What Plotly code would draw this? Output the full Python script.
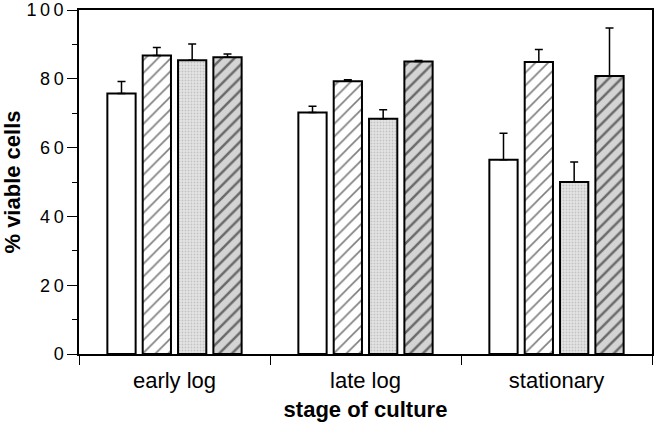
import plotly.graph_objects as go

stages = ['early log', 'late log', 'stationary']
series_names = ['A', 'B', 'C', 'D']

# mean % viable cells per stage, one list per series
viable_a = [75.7, 70.2, 56.5]
viable_b = [86.8, 79.3, 84.9]
viable_c = [85.4, 68.4, 50.0]
viable_d = [86.3, 85.0, 80.8]

# upper error (SD) per stage
err_a = [3.5, 1.8, 7.7]
err_b = [2.3, 0.4, 3.6]
err_c = [4.7, 2.6, 5.8]
err_d = [0.9, 0.3, 14.0]

y_ticks = [0, 20, 40, 60, 80, 100]
# the original typesetting has wide letter spacing on the numbers
y_ticktext = ['\u2009'.join(str(v)) for v in y_ticks]

patterns = [
    dict(shape='', bgcolor='white'),
    dict(shape='/', bgcolor='white', fgcolor='black', size=9, solidity=0.18),
    dict(shape='.', bgcolor='#e4e4e4', fgcolor='#a0a0a0', size=3, solidity=0.3),
    dict(shape='/', bgcolor='#d4d4d4', fgcolor='black', size=9, solidity=0.28),
]

fig = go.Figure()
for name, vals, errs, pat in zip(series_names,
                                 [viable_a, viable_b, viable_c, viable_d],
                                 [err_a, err_b, err_c, err_d],
                                 patterns):
    fig.add_trace(go.Bar(
        x=stages,
        y=vals,
        name=name,
        marker=dict(color='white', pattern=pat, line=dict(color='black', width=2)),
        error_y=dict(type='data', symmetric=False, array=errs, arrayminus=[0] * len(errs),
                     color='black', thickness=1.5, width=4),
    ))

font = 'Liberation Sans, Arial, Helvetica, sans-serif'
fig.update_layout(
    width=656, height=426,
    margin=dict(l=79, r=4, t=10, b=72),
    paper_bgcolor='white', plot_bgcolor='white',
    barmode='group', bargap=0.26, bargroupgap=0.2,
    showlegend=False,
    font=dict(family=font, size=18, color='black'),
)
fig.update_xaxes(
    automargin=False,
    showline=True, linecolor='black', linewidth=1.5, mirror=True,
    ticks='outside', tickson='boundaries', ticklen=9, tickcolor='black',
    tickfont=dict(size=22), ticklabelstandoff=6,
    showgrid=False,
    title=dict(text='<b>stage of culture</b>', font=dict(size=22), standoff=9),
)
fig.update_yaxes(
    automargin=False,
    range=[0, 100], showline=True, linecolor='black', linewidth=1.5, mirror=True,
    tickvals=y_ticks, ticktext=y_ticktext, ticks='outside', ticklen=10, tickcolor='black',
    ticklabeloverflow='allow',
    minor=dict(dtick=10, ticks='outside', ticklen=5, tickcolor='black', showgrid=False),
    showgrid=False, zeroline=False,
    title=dict(text='<b>% viable cells</b>', font=dict(size=22), standoff=2),
)

# drop the browser's default body margin so the figure sits at the page corner
fig.write_html('out.html', config={'displayModeBar': False},
               post_script="document.body.style.margin='0';")
